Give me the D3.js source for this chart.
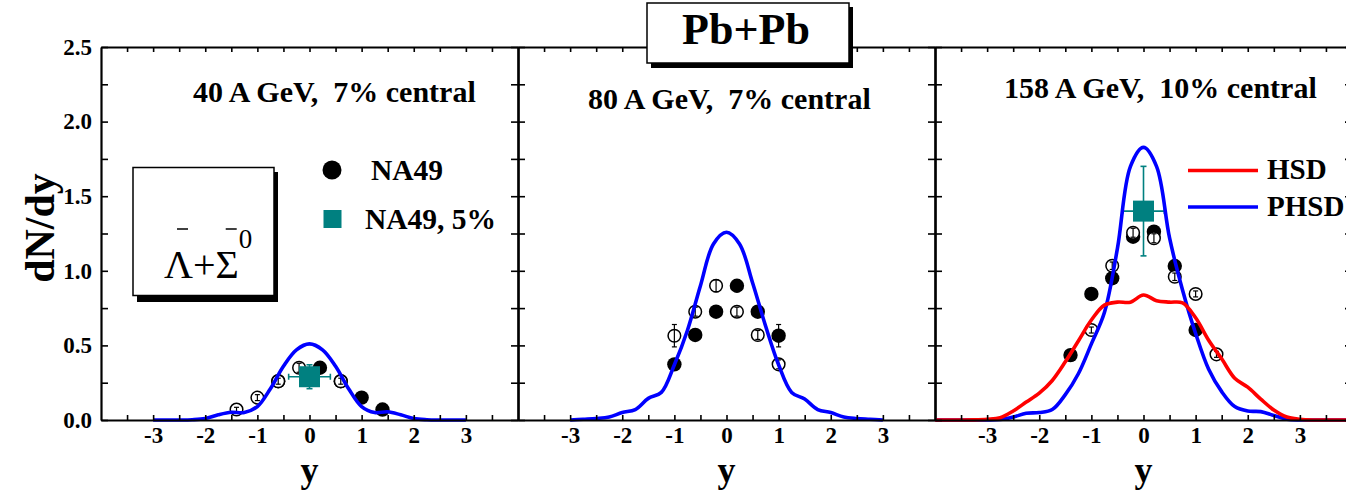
<!DOCTYPE html>
<html>
<head>
<meta charset="utf-8">
<script src="https://cdn.jsdelivr.net/npm/d3@7"></script>
<style>
  html, body { margin: 0; padding: 0; background: #fff; }
  svg { display: block; font-family: "Liberation Serif", "Times New Roman", serif; }
</style>
</head>
<body>
<svg id="chart" width="1346" height="491"></svg>
<script>
// ---- model curves: rapidity grid and dN/dy values ----
const gridY = [-3, -2.75, -2.5, -2.25, -2, -1.75, -1.5, -1.25, -1, -0.75, -0.5, -0.25, 0,
               0.25, 0.5, 0.75, 1, 1.25, 1.5, 1.75, 2, 2.25, 2.5, 2.75, 3];
const gridWide = [-4, -3.75, -3.5, -3.25, -3, -2.75, -2.5, -2.25, -2, -1.75, -1.5, -1.25, -1,
                  -0.75, -0.5, -0.25, 0, 0.25, 0.5, 0.75, 1, 1.25, 1.5, 1.75, 2, 2.25, 2.5,
                  2.75, 3, 3.25, 3.5, 3.75, 4];

const phsd40  = [0, 0, 0, 0.002, 0.01, 0.035, 0.052, 0.05, 0.09, 0.21, 0.36, 0.47, 0.51,
                 0.47, 0.36, 0.21, 0.09, 0.05, 0.055, 0.035, 0.01, 0.002, 0, 0, 0];
const phsd80  = [0, 0.005, 0.01, 0.02, 0.05, 0.07, 0.145, 0.185, 0.37, 0.6, 0.9, 1.18, 1.258,
                 1.18, 0.92, 0.63, 0.37, 0.185, 0.14, 0.07, 0.05, 0.02, 0.01, 0.005, 0];
const phsd158 = [0, 0, 0, 0, 0, 0.003, 0.02, 0.045, 0.05, 0.07, 0.17, 0.31, 0.51, 0.72, 1.15,
                 1.70, 1.827, 1.70, 1.22, 0.87, 0.58, 0.34, 0.19, 0.09, 0.06, 0.056, 0.03,
                 0.005, 0, 0, 0, 0, 0];
const hsd158  = [0, 0, 0, 0.001, 0.005, 0.015, 0.06, 0.12, 0.18, 0.265, 0.39, 0.53, 0.67,
                 0.77, 0.79, 0.79, 0.838, 0.80, 0.79, 0.785, 0.685, 0.535, 0.41, 0.28, 0.22,
                 0.14, 0.067, 0.02, 0.005, 0, 0, 0, 0];

// ---- NA49 measured points (filled) ----
const na49Y40 = [-0.6, 0.2, 0.6, 1.0, 1.4];
const na49V40 = [0.26, 0.35, 0.26, 0.15, 0.07];
const na49E40 = [0.02, 0.03, 0.02, 0.02, 0.015];
const na49Y80 = [-1.0, -0.6, -0.2, 0.2, 0.6, 1.0];
const na49V80 = [0.373, 0.57, 0.726, 0.90, 0.726, 0.565];
const na49E80 = [0.03, 0.03, 0.03, 0.04, 0.03, 0.075];
const na49Y158 = [-1.4, -1.0, -0.6, -0.2, 0.2, 0.6, 1.0];
const na49V158 = [0.435, 0.845, 0.95, 1.228, 1.262, 1.032, 0.603];
const na49E158 = [0.02, 0.02, 0.025, 0.03, 0.03, 0.025, 0.02];

// ---- NA49 points reflected at midrapidity (open) ----
const reflY40 = [-1.4, -1.0, -0.6, -0.2, 0.6];
const reflV40 = [0.07, 0.15, 0.26, 0.35, 0.26];
const reflE40 = [0.015, 0.02, 0.02, 0.03, 0.02];
const reflY80 = [-1.0, -0.6, -0.2, 0.2, 0.6, 1.0];
const reflV80 = [0.565, 0.726, 0.90, 0.726, 0.57, 0.373];
const reflE80 = [0.075, 0.03, 0.04, 0.03, 0.03, 0.03];
const reflY158 = [-1.0, -0.6, -0.2, 0.2, 0.6, 1.0, 1.4];
const reflV158 = [0.603, 1.034, 1.255, 1.218, 0.96, 0.845, 0.44];
const reflE158 = [0.02, 0.025, 0.03, 0.03, 0.025, 0.02, 0.02];

// ---- NA49 5% central point at midrapidity ----
const centralY40 = [0], centralV40 = [0.29], centralEy40 = [0.08], centralEx40 = [0.4];
const centralY158 = [0], centralV158 = [1.40], centralEy158 = [0.30], centralEx158 = [0.4];

// ---- labels and ticks ----
const panelTitles = ["40 A GeV,  7% central", "80 A GeV,  7% central", "158 A GeV,  10% central"];
const xTicks = [-3.5, -3, -2.5, -2, -1.5, -1, -0.5, 0, 0.5, 1, 1.5, 2, 2.5, 3, 3.5];
const yTicks = [0, 0.25, 0.5, 0.75, 1, 1.25, 1.5, 1.75, 2, 2.25, 2.5];
const yTickLabels = [0, 0.5, 1.0, 1.5, 2.0, 2.5];

const zipPts = (ys, vs, es) => ys.map((d, i) => ({ y: d, v: vs[i], e: es[i] }));
const zipCurve = (g, vs) => g.map((d, i) => ({ y: d, v: vs[i] }));

const panels = [
  { title: panelTitles[0], tx: 193, ty: 101.5,
    curves: [{ data: zipCurve(gridY, phsd40), color: "#0000ff" }],
    filled: zipPts(na49Y40, na49V40, na49E40),
    open: zipPts(reflY40, reflV40, reflE40),
    central: centralY40.map((d, i) => ({ y: d, v: centralV40[i], ey: centralEy40[i], ex: centralEx40[i] })) },
  { title: panelTitles[1], tx: 588, ty: 108.5,
    curves: [{ data: zipCurve(gridY, phsd80), color: "#0000ff" }],
    filled: zipPts(na49Y80, na49V80, na49E80),
    open: zipPts(reflY80, reflV80, reflE80),
    central: [] },
  { title: panelTitles[2], tx: 1004, ty: 97.5,
    curves: [{ data: zipCurve(gridWide, phsd158), color: "#0000ff" },
             { data: zipCurve(gridWide, hsd158), color: "#ff0000" }],
    filled: zipPts(na49Y158, na49V158, na49E158),
    open: zipPts(reflY158, reflV158, reflE158),
    central: centralY158.map((d, i) => ({ y: d, v: centralV158[i], ey: centralEy158[i], ex: centralEx158[i] })) }
];

const svg = d3.select("#chart");
const yScale = d3.scaleLinear().domain([0, 2.5]).range([420, 47]);
const panelW = 417, left0 = 101;
const teal = "#008080";

panels.forEach((p, i) => {
  const x0 = left0 + i * panelW, x1 = x0 + panelW;
  const x = d3.scaleLinear().domain([-4, 4]).range([x0, x1]);
  const g = svg.append("g");

  // error bars for circles
  const errBar = (sel, pts) => {
    const eg = sel.selectAll(null).data(pts).enter().append("g")
      .attr("stroke", "#000").attr("stroke-width", 1.2);
    eg.append("line").attr("x1", d => x(d.y)).attr("x2", d => x(d.y))
      .attr("y1", d => yScale(d.v - d.e)).attr("y2", d => yScale(d.v + d.e));
    eg.append("line").attr("x1", d => x(d.y) - 2.5).attr("x2", d => x(d.y) + 2.5)
      .attr("y1", d => yScale(d.v + d.e)).attr("y2", d => yScale(d.v + d.e));
    eg.append("line").attr("x1", d => x(d.y) - 2.5).attr("x2", d => x(d.y) + 2.5)
      .attr("y1", d => yScale(d.v - d.e)).attr("y2", d => yScale(d.v - d.e));
  };

  // filled NA49 circles
  g.selectAll(null).data(p.filled).enter().append("circle")
    .attr("cx", d => x(d.y)).attr("cy", d => yScale(d.v)).attr("r", 7.2).attr("fill", "#000");
  errBar(g, p.filled);

  // open reflected circles
  g.selectAll(null).data(p.open).enter().append("circle")
    .attr("cx", d => x(d.y)).attr("cy", d => yScale(d.v)).attr("r", 6.3)
    .attr("fill", "#fff").attr("stroke", "#000").attr("stroke-width", 1.5);
  errBar(g, p.open);

  // 5% central point with error bars
  p.central.forEach(c => {
    const cg = g.append("g").attr("stroke", teal).attr("stroke-width", 1.6);
    cg.append("line").attr("x1", x(c.y - c.ex)).attr("x2", x(c.y + c.ex))
      .attr("y1", yScale(c.v)).attr("y2", yScale(c.v));
    cg.append("line").attr("x1", x(c.y)).attr("x2", x(c.y))
      .attr("y1", yScale(c.v - c.ey)).attr("y2", yScale(c.v + c.ey));
    [c.y - c.ex, c.y + c.ex].forEach(xx => cg.append("line")
      .attr("x1", x(xx)).attr("x2", x(xx)).attr("y1", yScale(c.v) - 3).attr("y2", yScale(c.v) + 3));
    [c.v - c.ey, c.v + c.ey].forEach(vv => cg.append("line")
      .attr("x1", x(c.y) - 3).attr("x2", x(c.y) + 3).attr("y1", yScale(vv)).attr("y2", yScale(vv)));
    g.append("rect").attr("x", x(c.y) - 10.5).attr("y", yScale(c.v) - 10.5)
      .attr("width", 21).attr("height", 21).attr("fill", teal);
  });

  // model curves
  const line = d3.line().x(d => x(d.y)).y(d => yScale(d.v)).curve(d3.curveCatmullRom.alpha(0.5));
  p.curves.forEach(c => {
    g.append("path").datum(c.data).attr("d", line)
      .attr("fill", "none").attr("stroke", c.color).attr("stroke-width", 3.6)
      .attr("stroke-linejoin", "round");
  });

  // axes on all four sides, ticks pointing inward
  const styleAxis = a => {
    a.select(".domain").attr("stroke-width", 2.2);
    a.selectAll(".tick line").attr("stroke-width", 1.6);
    a.selectAll("text").attr("font-family", "Liberation Serif, Times New Roman, serif")
      .attr("font-weight", "bold").attr("fill", "#000");
  };
  const bottom = svg.append("g").attr("transform", `translate(0,${yScale(0)})`)
    .call(d3.axisBottom(x).tickValues(xTicks).tickSizeInner(-5).tickSizeOuter(0).tickPadding(7)
      .tickFormat(d => Number.isInteger(d) ? String(d) : ""));
  bottom.selectAll("text").attr("font-size", 23);
  styleAxis(bottom);
  const top = svg.append("g").attr("transform", `translate(0,${yScale(2.5)})`)
    .call(d3.axisTop(x).tickValues(xTicks).tickSizeInner(-5).tickSizeOuter(0).tickFormat(""));
  styleAxis(top);
  const leftAx = svg.append("g").attr("transform", `translate(${x0},0)`)
    .call(d3.axisLeft(yScale).tickValues(yTicks).tickSizeInner(-7).tickSizeOuter(0).tickPadding(9)
      .tickFormat(d => (i === 0 && yTickLabels.includes(d)) ? d3.format(".1f")(d) : ""));
  leftAx.selectAll("text").attr("font-size", 23);
  styleAxis(leftAx);
  const rightAx = svg.append("g").attr("transform", `translate(${x1},0)`)
    .call(d3.axisRight(yScale).tickValues(yTicks).tickSizeInner(-7).tickSizeOuter(0).tickFormat(""));
  styleAxis(rightAx);

  // x axis title
  svg.append("text").attr("x", x(0)).attr("y", 482).attr("text-anchor", "middle")
    .attr("font-size", 36).attr("font-weight", "bold").text("y");

  // energy / centrality label
  svg.append("text").attr("x", p.tx).attr("y", p.ty).attr("font-size", 30)
    .attr("font-weight", "bold").attr("xml:space", "preserve").style("white-space", "pre")
    .text(p.title);
});

// y axis title
svg.append("text").attr("transform", "translate(54,228) rotate(-90)")
  .attr("text-anchor", "middle").attr("font-size", 42).attr("font-weight", "bold").text("dN/dy");

// legend: NA49 symbols
svg.append("circle").attr("cx", 332).attr("cy", 170).attr("r", 9.5).attr("fill", "#000");
svg.append("text").attr("x", 371).attr("y", 179.5).attr("font-size", 29.5).attr("font-weight", "bold").text("NA49");
svg.append("rect").attr("x", 323.5).attr("y", 210).attr("width", 18).attr("height", 18).attr("fill", teal);
svg.append("text").attr("x", 365).attr("y", 228.5).attr("font-size", 29.5).attr("font-weight", "bold").text("NA49, 5%");

// legend: transport models
const modelLegend = [{ name: "HSD", color: "#ff0000", ly: 170.5 }, { name: "PHSD", color: "#0000ff", ly: 207 }];
modelLegend.forEach(m => {
  svg.append("line").attr("x1", 1188).attr("x2", 1258).attr("y1", m.ly).attr("y2", m.ly)
    .attr("stroke", m.color).attr("stroke-width", 3.6);
  svg.append("text").attr("x", 1267).attr("y", m.ly + 8.5).attr("font-size", 29)
    .attr("font-weight", "bold").text(m.name);
});

// particle box with drop shadow
svg.append("rect").attr("x", 137).attr("y", 172).attr("width", 141).attr("height", 130).attr("fill", "#000");
svg.append("rect").attr("x", 133).attr("y", 167.5).attr("width", 141).attr("height", 128)
  .attr("fill", "#fff").attr("stroke", "#000").attr("stroke-width", 1.5);
const part = svg.append("text").attr("x", 164).attr("y", 278).attr("font-size", 40);
part.append("tspan").text("Λ");
part.append("tspan").text("+");
part.append("tspan").text("Σ");
part.append("tspan").attr("font-size", 27).attr("dy", -30).text("0");
const pn = part.node();
[0, 2].forEach(k => {
  const b = pn.getExtentOfChar(k);
  const cx = b.x + b.width / 2 + 4;
  svg.append("line").attr("x1", cx - 5.5).attr("x2", cx + 5.5).attr("y1", 229).attr("y2", 229)
    .attr("stroke", "#000").attr("stroke-width", 1.5);
});

// collision system box with drop shadow
svg.append("rect").attr("x", 651).attr("y", 7).attr("width", 202).attr("height", 61).attr("fill", "#000");
svg.append("rect").attr("x", 647).attr("y", 3).attr("width", 202).attr("height", 60)
  .attr("fill", "#fff").attr("stroke", "#000").attr("stroke-width", 1.5);
svg.append("text").attr("x", 746).attr("y", 44).attr("text-anchor", "middle")
  .attr("font-size", 44).attr("font-weight", "bold").text("Pb+Pb");
</script>
</body>
</html>
